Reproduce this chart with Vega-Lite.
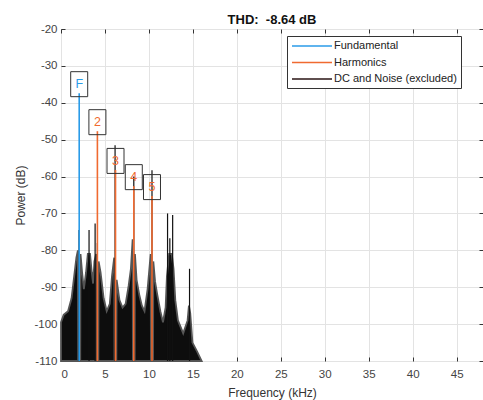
{
  "$schema": "https://vega.github.io/schema/vega-lite/v6.json",
  "width": 422,
  "height": 332,
  "autosize": {"type": "none"},
  "padding": {"left": 61, "top": 29, "right": 0, "bottom": 39},
  "background": "white",
  "title": {"text": "THD:\u00a0 -8.64 dB", "fontSize": 13, "fontWeight": "bold", "font": "Liberation Sans", "color": "#111", "offset": -4},
  "config": {
    "view": {"stroke": "#333", "strokeWidth": 1},
    "font": "Liberation Sans",
    "axis": {
      "labelFont": "Liberation Sans", "labelFontSize": 11.5, "labelColor": "#444",
      "titleFont": "Liberation Sans", "titleFontSize": 12, "titleColor": "#333", "titleFontWeight": "normal",
      "gridColor": "#e3e3e3", "domain": false, "tickColor": "#333", "tickSize": -4,
      "labelExpr": "'' + datum.value"
    },
    "legend": {
      "orient": "none", "legendX": 226, "legendY": 7,
      "strokeColor": "#333", "fillColor": "white", "padding": 4, "cornerRadius": 0,
      "symbolType": "M-1,0H7", "symbolSize": 100, "symbolStrokeWidth": 1.5,
      "labelFont": "Liberation Sans", "labelFontSize": 11, "labelColor": "#222",
      "rowPadding": 5.5, "labelOffset": 31
    }
  },
  "datasets": {
    "noise": [
      {"f": 0, "db": -99.5}, {"f": 0.3, "db": -97.5}, {"f": 0.8, "db": -96.5}, {"f": 1.2, "db": -93},
      {"f": 1.5, "db": -87}, {"f": 1.75, "db": -82}, {"f": 1.92, "db": -80}, {"f": 1.95, "db": -110},
      {"f": 2.19, "db": -110}, {"f": 2.22, "db": -81}, {"f": 2.4, "db": -86}, {"f": 2.6, "db": -90.5},
      {"f": 2.85, "db": -86}, {"f": 3.05, "db": -81}, {"f": 3.3, "db": -81}, {"f": 3.5, "db": -86},
      {"f": 3.65, "db": -89}, {"f": 3.8, "db": -83}, {"f": 4.0, "db": -81}, {"f": 4.03, "db": -110},
      {"f": 4.25, "db": -110}, {"f": 4.28, "db": -83}, {"f": 4.5, "db": -86}, {"f": 4.85, "db": -93},
      {"f": 5.2, "db": -96.5}, {"f": 5.55, "db": -94.5}, {"f": 5.8, "db": -87}, {"f": 6.05, "db": -82},
      {"f": 6.08, "db": -110}, {"f": 6.3, "db": -110}, {"f": 6.33, "db": -88}, {"f": 6.65, "db": -93.5},
      {"f": 7.0, "db": -95.5}, {"f": 7.35, "db": -94.5}, {"f": 7.7, "db": -89.5}, {"f": 7.95, "db": -85},
      {"f": 8.15, "db": -77}, {"f": 8.18, "db": -110}, {"f": 8.38, "db": -110}, {"f": 8.41, "db": -81},
      {"f": 8.6, "db": -88}, {"f": 8.9, "db": -92}, {"f": 9.2, "db": -95}, {"f": 9.5, "db": -96.5},
      {"f": 9.85, "db": -90.5}, {"f": 10.2, "db": -81}, {"f": 10.23, "db": -110}, {"f": 10.47, "db": -110},
      {"f": 10.5, "db": -83}, {"f": 10.7, "db": -88.5}, {"f": 10.95, "db": -92}, {"f": 11.3, "db": -96.5},
      {"f": 11.6, "db": -99.5}, {"f": 11.9, "db": -95.5}, {"f": 12.05, "db": -87}, {"f": 12.3, "db": -81},
      {"f": 12.6, "db": -81}, {"f": 12.8, "db": -85}, {"f": 13.0, "db": -93.5}, {"f": 13.3, "db": -99},
      {"f": 13.9, "db": -102.5}, {"f": 14.4, "db": -99}, {"f": 14.55, "db": -95}, {"f": 14.7, "db": -97},
      {"f": 14.95, "db": -105}, {"f": 15.5, "db": -107.5}, {"f": 16.0, "db": -110}
    ],
    "spikes": [
      {"f": 2.05, "db": -74.5}, {"f": 3.19, "db": -74.5}, {"f": 3.88, "db": -72.7}, {"f": 4.14, "db": -78},
      {"f": 6.15, "db": -51.5}, {"f": 8.28, "db": -60}, {"f": 10.35, "db": -58.3}, {"f": 12.12, "db": -70},
      {"f": 12.38, "db": -76.7}, {"f": 12.7, "db": -70.4}, {"f": 14.62, "db": -85}
    ],
    "tones": [
      {"f": 2.07, "db": -37.4, "kind": "Fundamental", "label": "F"},
      {"f": 4.14, "db": -47.7, "kind": "Harmonics", "label": "2"},
      {"f": 6.2, "db": -58.2, "kind": "Harmonics", "label": "3"},
      {"f": 8.28, "db": -62.6, "kind": "Harmonics", "label": "4"},
      {"f": 10.35, "db": -65.3, "kind": "Harmonics", "label": "5"}
    ]
  },
  "resolve": {"axis": {"x": "independent", "y": "independent"}},
  "layer": [
    {
      "data": {"name": "noise"},
      "mark": {"type": "area", "color": "#0d0d0d", "stroke": "#555", "strokeWidth": 1.8},
      "encoding": {
        "x": {"field": "f", "type": "quantitative", "scale": {"domain": [0, 48], "nice": false},
              "axis": {"values": [0, 5, 10, 15, 20, 25, 30, 35, 40, 45], "title": "Frequency (kHz)", "labelPadding": 11, "titlePadding": 8}},
        "y": {"field": "db", "type": "quantitative", "scale": {"domain": [-110, -20], "nice": false},
              "axis": {"values": [-110, -100, -90, -80, -70, -60, -50, -40, -30, -20], "title": "Power (dB)", "labelPadding": 8, "titlePadding": 6}},
        "y2": {"datum": -110}
      }
    },
    {
      "data": {"name": "spikes"},
      "mark": {"type": "rule", "color": "#111", "strokeWidth": 1.2},
      "encoding": {
        "x": {"field": "f", "type": "quantitative",
              "axis": {"orient": "top", "values": [0, 5, 10, 15, 20, 25, 30, 35, 40, 45], "labels": false, "title": null, "grid": false}},
        "y": {"field": "db", "type": "quantitative",
              "axis": {"orient": "right", "values": [-110, -100, -90, -80, -70, -60, -50, -40, -30, -20], "labels": false, "title": null, "grid": false}},
        "y2": {"datum": -110}
      }
    },
    {
      "data": {"name": "tones"},
      "mark": {"type": "rule", "strokeWidth": 1.6},
      "encoding": {
        "x": {"field": "f", "type": "quantitative", "axis": null},
        "y": {"field": "db", "type": "quantitative", "axis": null},
        "y2": {"datum": -110},
        "color": {"field": "kind", "type": "nominal",
                  "scale": {"domain": ["Fundamental", "Harmonics", "DC and Noise (excluded)"], "range": ["#2a9be8", "#f06a30", "#2a1414"]},
                  "legend": {"title": null}}
      }
    },
    {
      "data": {"name": "tones"},
      "mark": {"type": "point", "shape": "M-0.68,-1H0.68V1H-0.68Z", "size": 625, "filled": false, "stroke": "#333", "strokeWidth": 1, "yOffset": -9, "opacity": 1},
      "encoding": {
        "x": {"field": "f", "type": "quantitative", "axis": null},
        "y": {"field": "db", "type": "quantitative", "axis": null}
      }
    },
    {
      "data": {"name": "tones"},
      "transform": [{"filter": "datum.kind === 'Fundamental'"}],
      "mark": {"type": "text", "color": "#2a9be8", "fontSize": 12.5, "font": "Liberation Sans", "baseline": "middle", "yOffset": -9},
      "encoding": {
        "x": {"field": "f", "type": "quantitative", "axis": null},
        "y": {"field": "db", "type": "quantitative", "axis": null},
        "text": {"field": "label"}
      }
    },
    {
      "data": {"name": "tones"},
      "transform": [{"filter": "datum.kind === 'Harmonics'"}],
      "mark": {"type": "text", "color": "#f06a30", "fontSize": 12.5, "font": "Liberation Sans", "baseline": "middle", "yOffset": -9},
      "encoding": {
        "x": {"field": "f", "type": "quantitative", "axis": null},
        "y": {"field": "db", "type": "quantitative", "axis": null},
        "text": {"field": "label"}
      }
    }
  ]
}
